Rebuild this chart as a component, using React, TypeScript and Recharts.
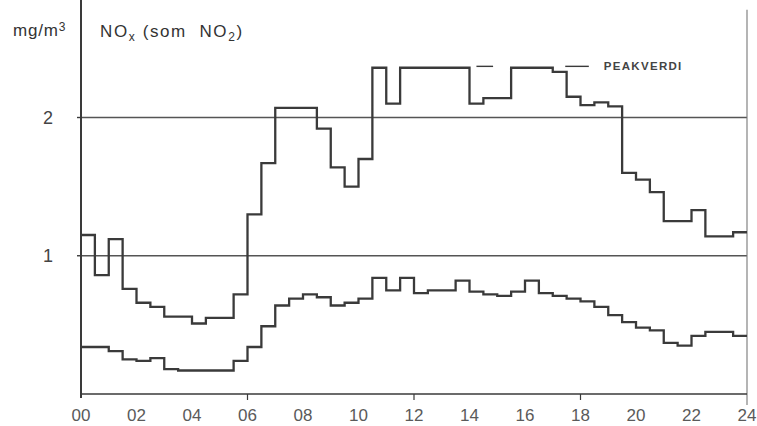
import React from 'react';
import { ComposedChart, Line, XAxis, YAxis, ReferenceLine, Label, Customized } from 'recharts';

// Start of each half-hour interval (hours)
const halfHours = [
  0, 0.5, 1, 1.5, 2, 2.5, 3, 3.5, 4, 4.5, 5, 5.5,
  6, 6.5, 7, 7.5, 8, 8.5, 9, 9.5, 10, 10.5, 11, 11.5,
  12, 12.5, 13, 13.5, 14, 14.5, 15, 15.5, 16, 16.5, 17, 17.5,
  18, 18.5, 19, 19.5, 20, 20.5, 21, 21.5, 22, 22.5, 23, 23.5,
];

// Half-hour NOx (as NO2), highest station, mg/m3
const noxUpper = [
  1.15, 0.86, 1.12, 0.76, 0.66, 0.63, 0.56, 0.56, 0.51, 0.55, 0.55, 0.72,
  1.30, 1.67, 2.07, 2.07, 2.07, 1.92, 1.64, 1.50, 1.70, 2.36, 2.10, 2.36,
  2.36, 2.36, 2.36, 2.36, 2.10, 2.14, 2.14, 2.36, 2.36, 2.36, 2.33, 2.15,
  2.09, 2.11, 2.08, 1.60, 1.55, 1.46, 1.25, 1.25, 1.33, 1.14, 1.14, 1.17,
];

// Half-hour NOx (as NO2), mean level, mg/m3
const noxLower = [
  0.34, 0.34, 0.31, 0.25, 0.24, 0.26, 0.18, 0.17, 0.17, 0.17, 0.17, 0.24,
  0.34, 0.49, 0.64, 0.69, 0.72, 0.70, 0.64, 0.66, 0.69, 0.84, 0.75, 0.84,
  0.73, 0.75, 0.75, 0.82, 0.74, 0.72, 0.71, 0.74, 0.82, 0.73, 0.71, 0.69,
  0.67, 0.63, 0.57, 0.52, 0.48, 0.46, 0.37, 0.35, 0.42, 0.45, 0.45, 0.42,
];

const hourTicks = [0, 2, 4, 6, 8, 10, 12, 14, 16, 18, 20, 22, 24];
const hourLabels = ['00', '02', '04', '06', '08', '10', '12', '14', '16', '18', '20', '22', '24'];
const majorHourMarks = [6, 12, 18];
const valueTicks = [1, 2];
const valueTop = 2.85;

// Peak value markers
const peakLevel = 2.37;
const peakDash = [14.25, 14.85];
const peakLeader = [17.45, 18.3];
const peakText = 'PEAKVERDI';

const rows = halfHours.map((h, i) => ({ h, upper: noxUpper[i], lower: noxLower[i] }));
rows.push({ h: 24, upper: noxUpper[noxUpper.length - 1], lower: noxLower[noxLower.length - 1] });

const INK = '#3a3a3a';
const FONT = '"Liberation Sans", Arial, sans-serif';

const HourTick = (props: any) => {
  const { x, y, payload } = props;
  const idx = hourTicks.indexOf(payload.value);
  const major = majorHourMarks.includes(payload.value);
  return (
    <g>
      {major && <line x1={x} x2={x} y1={y} y2={y + 6} stroke={INK} strokeWidth={1.2} />}
      <text x={x} y={y + 27} textAnchor="middle" fontFamily={FONT} fontSize={17} fill="#5a5a5a">
        {hourLabels[idx]}
      </text>
    </g>
  );
};

const ValueTick = (props: any) => {
  const { x, y, payload } = props;
  return (
    <text x={x - 29} y={y + 6} textAnchor="middle" fontFamily={FONT} fontSize={18} fill="#444">
      {payload.value}
    </text>
  );
};

// Unit and quantity headings
const Titles = () => (
  <g fontFamily={FONT} fill="#333">
    <text x={13} y={36} fontSize={17} letterSpacing={0.8}>
      mg/m<tspan fontSize={12} dy={-5}>3</tspan>
    </text>
    <text x={100} y={37} fontSize={17} letterSpacing={1.6}>
      NO<tspan fontSize={12} dy={4}>x</tspan>
      <tspan dy={-4} xmlSpace="preserve"> (som  NO</tspan>
      <tspan fontSize={12} dy={4}>2</tspan>
      <tspan dy={-4}>)</tspan>
    </text>
  </g>
);

export default function App() {
  return (
    <div style={{ position: 'absolute', left: 0, top: 0, width: 757, height: 426, background: '#fff' }}>
      <ComposedChart width={757} height={426} data={rows} margin={{ top: 0, right: 10, bottom: 0, left: 0 }}>
        <XAxis
          dataKey="h"
          type="number"
          domain={[0, 24]}
          ticks={hourTicks}
          height={32}
          tickSize={0}
          tickMargin={0}
          tickLine={false}
          axisLine={{ stroke: INK, strokeWidth: 1.5 }}
          tick={<HourTick />}
        />
        <YAxis
          type="number"
          domain={[0, valueTop]}
          ticks={valueTicks}
          width={81}
          tickSize={4}
          tickMargin={0}
          tickLine={{ stroke: INK, strokeWidth: 1.4 }}
          axisLine={false}
          tick={<ValueTick />}
        />
        {valueTicks.map((v) => (
          <ReferenceLine key={v} y={v} stroke="#555" strokeWidth={1.4} />
        ))}
        {/* right frame line */}
        <ReferenceLine
          segment={[{ x: 24, y: 2.78 }, { x: 24, y: -0.08 }]}
          stroke="#777"
          strokeWidth={1.1}
          ifOverflow="visible"
        />
        <ReferenceLine
          segment={[{ x: peakDash[0], y: peakLevel }, { x: peakDash[1], y: peakLevel }]}
          stroke={INK}
          strokeWidth={1.4}
        />
        <ReferenceLine
          segment={[{ x: peakLeader[0], y: peakLevel }, { x: peakLeader[1], y: peakLevel }]}
          stroke={INK}
          strokeWidth={1.4}
        >
          <Label
            value={peakText}
            position="right"
            offset={15}
            fontFamily={FONT}
            fontSize={11.5}
            fontWeight="bold"
            letterSpacing={1.3}
            fill="#444"
          />
        </ReferenceLine>
        <Line
          type="stepAfter"
          dataKey="upper"
          stroke={INK}
          strokeWidth={2.3}
          dot={false}
          activeDot={false}
          isAnimationActive={false}
        />
        <Line
          type="stepAfter"
          dataKey="lower"
          stroke={INK}
          strokeWidth={2.3}
          dot={false}
          activeDot={false}
          isAnimationActive={false}
        />
        <Customized component={Titles} />
      </ComposedChart>
      {/* left frame line separating the unit from the quantity heading */}
      <div
        style={{
          position: 'absolute',
          left: 80,
          top: 0,
          width: 2,
          height: 398,
          background: INK,
          zIndex: 5,
          pointerEvents: 'none',
        }}
      />
    </div>
  );
}
